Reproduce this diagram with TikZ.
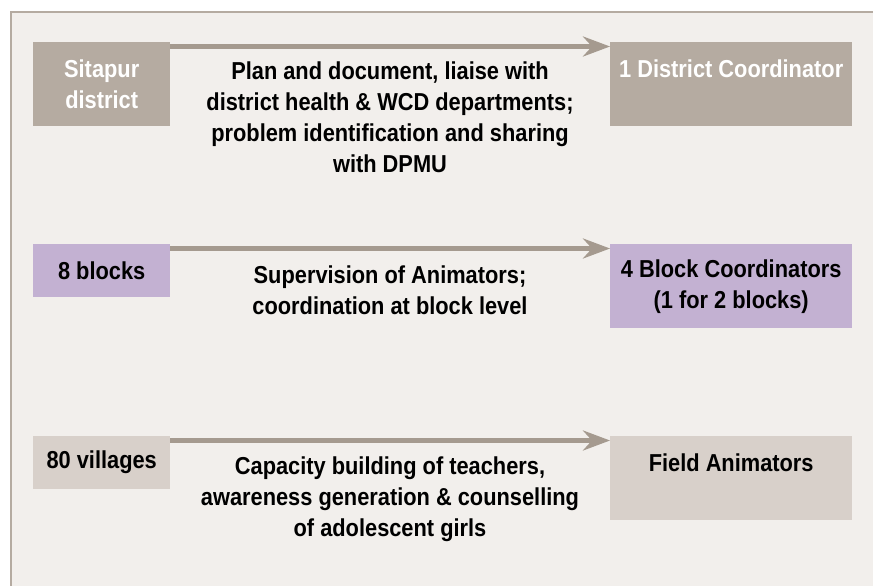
\documentclass[tikz,border=0pt]{standalone}
\usepackage{fontspec}
\setmainfont{Liberation Sans}[FakeStretch=0.89]
\usetikzlibrary{arrows.meta}

\definecolor{panelbg}{HTML}{F2EFEC}
\definecolor{framec}{HTML}{B5ABA1}
\definecolor{taupe}{HTML}{B5ABA1}
\definecolor{lilac}{HTML}{C3B1D2}
\definecolor{sand}{HTML}{D8D0CA}
\definecolor{arrowc}{HTML}{A59A8F}

\begin{document}
\begin{tikzpicture}[x=1pt,y=-1pt,
  txt/.style={font=\bfseries\fontsize{24.5}{31}\selectfont, align=center},
  box/.style={txt, rectangle, inner sep=0pt, anchor=north west},
  leftbox/.style={box, minimum width=137pt},
  rightbox/.style={box, minimum width=242pt},
  note/.style={txt, inner sep=0pt, text=black},
  flow/.style={draw=arrowc, line width=5pt,
    -{Stealth[length=27pt, width=20pt, inset=9pt]}}]

% page and panel
\useasboundingbox (0,0) rectangle (873,586);
\fill[white] (0,0) rectangle (873,586);
\fill[panelbg] (11,12) rectangle (873,586);
\draw[framec, line width=1.2pt] (11,586) -- (11,12) -- (873,12);

% district level
\node[leftbox, fill=taupe, text=white, minimum height=84pt] (sitapur) at (33,42) {Sitapur\\district};
\node[rightbox, fill=taupe, text=white, minimum height=84pt] (dc) at (610,42) {1 District Coordinator\\\mbox{}};
\draw[flow] ([yshift=-4.5pt]sitapur.north east) -- ([yshift=-4.5pt]dc.north west);
\node[note] (t1) at (390,117.5) {Plan and document, liaise with\\district health \& WCD departments;\\problem identification and sharing\\with DPMU};

% block level
\node[leftbox, fill=lilac, minimum height=53pt] (blocks) at (33,244) {8 blocks};
\node[rightbox, fill=lilac, minimum height=84pt] (bc) at (610,244) {4 Block Coordinators\\(1 for 2 blocks)};
\draw[flow] ([yshift=-4.5pt]blocks.north east) -- ([yshift=-4.5pt]bc.north west);
\node[note] (t2) at (390,290.5) {Supervision of Animators;\\coordination at block level};

% village level
\node[leftbox, fill=sand, minimum height=53pt] (villages) at (33,436) {80 villages};
\node[rightbox, fill=sand, minimum height=84pt] (fa) at (610,436) {Field Animators\\\mbox{}};
\draw[flow] ([yshift=-4.5pt]villages.north east) -- ([yshift=-4.5pt]fa.north west);
\node[note] (t3) at (390,499.5) {Capacity building of teachers,\\awareness generation \& counselling\\of adolescent girls};
\end{tikzpicture}
\end{document}
